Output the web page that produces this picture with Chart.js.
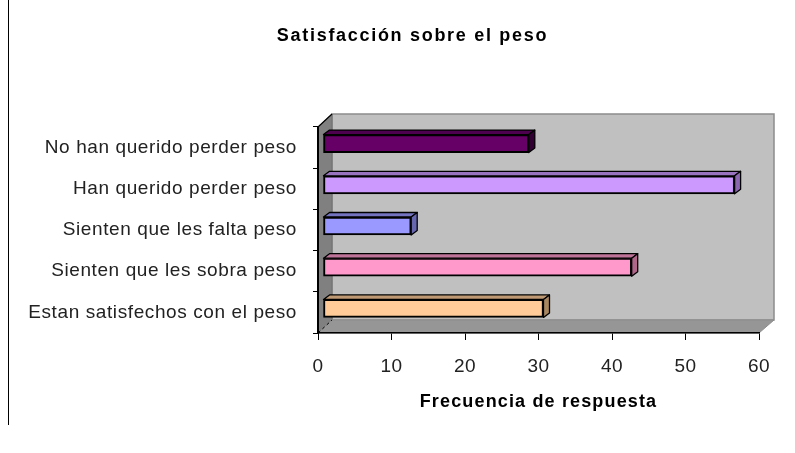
<!DOCTYPE html>
<html><head><meta charset="utf-8">
<style>html,body{margin:0;padding:0;background:#fff}#w{width:795px;height:453px;position:relative}</style>
<script src="https://cdn.jsdelivr.net/npm/chart.js@4"></script></head>
<body><div id="w"><canvas id="c" width="795" height="453"></canvas></div>
<script>
const categories = ["No han querido perder peso","Han querido perder peso","Sienten que les falta peso","Sienten que les sobra peso","Estan satisfechos con el peso"];
const values = [28,56,12,42,30];
const faceColors = ["#660066","#CC99FF","#9999FF","#FF99CC","#FFCC99"];
const topColors = ["#4d004d","#9973bf","#7373bf","#bf7399","#bf9973"];
const sideColors = ["#330033","#8a66b0","#6666b0","#b06688","#a88660"];
const xTicks = [0,10,20,30,40,50,60];
const chartTitle = "Satisfacción sobre el peso";
const xTitle = "Frecuencia de respuesta";
const FONT = "'Liberation Sans', Arial, sans-serif";
const DX = 14, DY = 13;      // depth of the walls
const BX = 5, BY = -4;       // bar shift inside that depth
const FX = 6, FY = -4.5;     // depth of each bar

function poly(ctx, pts, fill, stroke, lw){
  ctx.beginPath();
  pts.forEach((p,i)=> i?ctx.lineTo(p[0],p[1]):ctx.moveTo(p[0],p[1]));
  ctx.closePath();
  if(fill){ctx.fillStyle=fill;ctx.fill();}
  if(stroke){ctx.strokeStyle=stroke;ctx.lineWidth=lw||1;ctx.stroke();}
}
function spaced(ctx,obj,name,sp){
  if(!obj||obj['_sp'+name])return;
  obj['_sp'+name]=true;
  const orig=obj[name];
  obj[name]=function(...a){
    const prev=ctx.letterSpacing;
    ctx.letterSpacing=sp;
    orig.apply(this,a);
    ctx.letterSpacing=prev;
  };
}
const box3d = {
  id:'box3d',
  beforeDraw(chart){
    const {ctx, chartArea:a} = chart;
    ctx.letterSpacing='0px';
    spaced(ctx,chart.titleBlock,'draw','1.7px');
    spaced(ctx,chart.scales.x,'drawTitle','1.15px');
    spaced(ctx,chart.scales.x,'drawLabels','0.5px');
    spaced(ctx,chart.scales.y,'drawLabels','0.6px');
    chart.scales.y._computeLabelArea=()=>null;
    ctx.save();
    // page rule at the left
    ctx.strokeStyle='#000';ctx.lineWidth=1;
    ctx.beginPath();ctx.moveTo(8.5,0);ctx.lineTo(8.5,425);ctx.stroke();
    const L=a.left,R=a.right,T=a.top,B=a.bottom;
    poly(ctx,[[L+DX,T-DY],[R+DX+1,T-DY],[R+DX+1,B-DY],[L+DX,B-DY]],'#c0c0c0','#8c8c8c',1.5);
    poly(ctx,[[L,T],[L+DX,T-DY],[L+DX,B-DY],[L,B]],'#808080','#707070',1);
    poly(ctx,[[L,B],[L+DX,B-DY],[R+DX+1,B-DY],[R,B]],'#969696','#8c8c8c',1);
    ctx.strokeStyle='#000';ctx.lineWidth=1.2;
    ctx.beginPath();ctx.moveTo(L,T);ctx.lineTo(L+DX,T-DY);ctx.stroke();
    ctx.setLineDash([3,3]);ctx.lineWidth=1;
    ctx.beginPath();ctx.moveTo(L,B);ctx.lineTo(L+DX,B-DY);ctx.stroke();
    ctx.restore();
  },
  beforeDatasetDraw(chart){
    chart.ctx.save();
    chart.ctx.translate(BX,BY);
  },
  afterDatasetDraw(chart,args){
    const ctx=chart.ctx;
    const m=chart.getDatasetMeta(args.index);
    ctx.lineJoin='round';
    m.data.forEach((b,i)=>{
      const p=b.getProps(['x','y','base','height'],true);
      const t=p.y-p.height/2, bt=p.y+p.height/2;
      poly(ctx,[[p.base,t],[p.base+FX,t+FY],[p.x+FX,t+FY],[p.x,t]],topColors[i],'#000',1.3);
      poly(ctx,[[p.x,t],[p.x+FX,t+FY],[p.x+FX,bt+FY],[p.x,bt]],sideColors[i],'#000',1.3);
    });
    ctx.restore();
  }
};
new Chart(document.getElementById('c'),{
  type:'bar',
  plugins:[box3d],
  data:{labels:categories,datasets:[{data:values,backgroundColor:faceColors,borderColor:'#000',borderWidth:2,barThickness:18,borderSkipped:false}]},
  options:{
    indexAxis:'y',responsive:false,animation:false,
    layout:{padding:{left:66,top:25,right:36,bottom:0}},
    plugins:{legend:{display:false},tooltip:{enabled:false},
      title:{display:true,text:chartTitle,color:'#000',fullSize:true,font:{family:FONT,size:18,weight:'bold'},padding:{top:0,bottom:80.4}}},
    scales:{
      x:{type:'linear',min:xTicks[0],max:xTicks[xTicks.length-1],
        afterFit(s){s.height=120;},
        afterBuildTicks(s){s.ticks=xTicks.map(v=>({value:v}));},
        grid:{drawOnChartArea:false,tickLength:7,tickColor:'#000',tickWidth:1},
        border:{color:'#000',width:1.5},
        ticks:{color:'#222',font:{family:FONT,size:19},padding:15,maxRotation:0,autoSkip:false},
        title:{display:true,text:xTitle,color:'#000',font:{family:FONT,size:18,weight:'bold'},padding:{top:8,bottom:40}}},
      y:{
        afterFit(s){s.width=252;},
        grid:{drawOnChartArea:false,tickLength:5,tickColor:'#000',tickWidth:1,offset:true},
        border:{color:'#000',width:2},
        ticks:{color:'#222',font:{family:FONT,size:19},padding:16,autoSkip:false}}
    }
  }
});
</script></body></html>
